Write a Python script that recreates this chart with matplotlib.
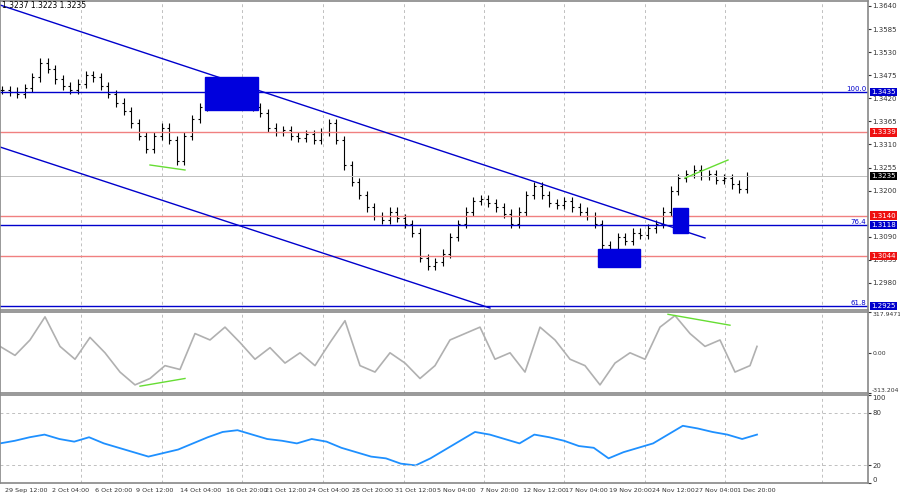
import matplotlib
matplotlib.use("Agg")
import matplotlib.pyplot as plt
import numpy as np
from matplotlib.patches import Rectangle

closes = [1.3440,1.3436,1.3430,1.3445,1.3470,1.3505,1.3490,1.3465,1.3450,1.3440,1.3455,1.3475,1.3470,1.3450,
1.3430,1.3410,1.3390,1.3360,1.3330,1.3300,1.3330,1.3350,1.3320,1.3270,1.3330,1.3370,1.3400,1.3430,1.3445,1.3440,
1.3425,1.3435,1.3420,1.3400,1.3385,1.3350,1.3340,1.3345,1.3330,1.3325,1.3335,1.3320,1.3340,1.3360,1.3320,1.3260,
1.3220,1.3190,1.3160,1.3140,1.3130,1.3150,1.3135,1.3120,1.3100,1.3040,1.3020,1.3030,1.3050,1.3090,1.3120,1.3150,
1.3175,1.3180,1.3170,1.3160,1.3145,1.3120,1.3150,1.3190,1.3210,1.3190,1.3170,1.3165,1.3175,1.3160,1.3150,1.3140,
1.3120,1.3070,1.3060,1.3090,1.3080,1.3100,1.3095,1.3110,1.3120,1.3150,1.3200,1.3230,1.3240,1.3250,1.3235,1.3240,
1.3225,1.3230,1.3215,1.3205,1.3235]
cci_x = [0,15,30,45,60,75,90,105,120,135,150,165,180,195,210,225,240,255,270,285,300,315,330,345,360,375,390,405,420,
435,450,465,480,495,510,525,540,555,570,585,600,615,630,645,660,675,690,705,720,735,750,757]
cci = [50,-20,100,280,50,-50,120,0,-150,-250,-200,-100,-130,150,100,200,80,-50,40,-80,0,-100,80,250,-100,-150,0,-80,-200,
-100,100,150,200,-50,0,-150,200,100,-50,-100,-250,-80,0,-50,200,290,150,50,100,-150,-100,50]
rsi = [45,48,52,55,50,47,52,45,40,35,30,34,38,45,52,58,60,55,50,48,45,50,47,40,35,30,28,22,20,28,38,48,58,55,50,45,55,52,
48,42,40,28,35,40,45,55,65,62,58,55,50,55]
levels_blue = [1.3435, 1.3118, 1.2925]
levels_red = [1.3339, 1.3140, 1.3044]
last = 1.3235
tick_px = [5,52,95,136,180,226,265,308,352,395,437,480,523,565,609,652,695,737]
tick_labels = ["29 Sep 12:00","2 Oct 04:00","6 Oct 20:00","9 Oct 12:00","14 Oct 04:00","16 Oct 20:00","21 Oct 12:00",
"24 Oct 04:00","28 Oct 20:00","31 Oct 12:00","5 Nov 04:00","7 Nov 20:00","12 Nov 12:00","17 Nov 04:00",
"19 Nov 20:00","24 Nov 12:00","27 Nov 04:00","1 Dec 20:00"]

W, H = 900, 500
PW = 868
fig = plt.figure(figsize=(9, 5), dpi=100)
def ax_at(top, bot):
    return fig.add_axes([0, 1 - bot / H, PW / W, (bot - top) / H])
ax = ax_at(1, 310); ac = ax_at(312, 393); ar = ax_at(395, 483)
px = lambda p: 1.3640 - (p - 6) * 0.0715 / 300
ax.set_ylim(px(310), px(1))
for a in (ax, ac, ar):
    a.set_xlim(0, PW)
    for s in a.spines.values():
        s.set_color("#888888"); s.set_linewidth(1.2)
    a.tick_params(left=False, labelleft=False, bottom=False, labelbottom=False,
                  right=True, labelright=True, labelsize=5, length=2, pad=1, colors="#333333")
    for g in [81,162,242,323,404,484,564,645,725,822]:
        a.axvline(g, color="#c0c0c0", lw=0.7, ls=(0, (3, 3)), zorder=0)

xs = np.arange(len(closes)) * 7.6 + 2
c = np.array(closes)
prev = np.r_[c[0], c[:-1]]
hi = np.maximum(prev, c) + 0.0010; lo = np.minimum(prev, c) - 0.0010
ax.vlines(xs, lo, hi, color="black", lw=0.8)
ax.hlines(prev, xs - 2, xs, color="black", lw=0.8)
ax.hlines(c, xs, xs + 2, color="black", lw=0.8)

for l in levels_blue:
    ax.axhline(l, color="#0000cc", lw=1)
for l in levels_red:
    ax.axhline(l, color="#f08080", lw=1)
ax.axhline(last, color="#c0c0c0", lw=0.7)
ax.plot([0, 705], [px(5), px(238)], color="#0000cc", lw=1)
ax.plot([0, 490], [px(147), px(308)], color="#0000cc", lw=1)
for (x0, x1, y0, y1) in [(205, 258, 77, 110), (598, 640, 249, 267), (673, 688, 208, 233)]:
    ax.add_patch(Rectangle((x0, px(y1)), x1 - x0, px(y0) - px(y1), color="#0000dd", zorder=3))
ax.plot([150, 185], [px(165), px(170)], color="#66dd33", lw=1)
ax.plot([685, 728], [px(178), px(160)], color="#66dd33", lw=1)
for l, t in [(1.3435, "100.0"), (1.3118, "76.4"), (1.2925, "61.8")]:
    ax.text(866, l, t, color="#0000cc", fontsize=5, ha="right", va="bottom")
ax.text(2, px(1), "1.3237 1.3223 1.3235", fontsize=5.5, va="top")
yt = [1.3640,1.3585,1.3530,1.3475,1.3420,1.3365,1.3310,1.3255,1.3200,1.3090,1.3035,1.2980]
ax.set_yticks(yt); ax.set_yticklabels([f"{v:.4f}" for v in yt])
for l, col in [(1.3435,"#0000cc"),(1.3339,"#ee1111"),(1.3235,"black"),
               (1.3140,"#ee1111"),(1.3118,"#0000cc"),(1.3044,"#ee1111"),(1.2925,"#0000cc")]:
    ax.text(871, l, f"{l:.4f}", fontsize=5, color="white", va="center", ha="left", clip_on=False,
            bbox=dict(boxstyle="square,pad=0.2", fc=col, ec="none"), zorder=5)

ac.set_ylim(-313.204, 317.9471)
ac.plot(cci_x, cci, color="#b0b0b0", lw=1.2)
ac.plot([140, 185], [-260, -200], color="#66dd33", lw=1)
ac.plot([668, 730], [300, 215], color="#66dd33", lw=1)
ac.set_yticks([317.9471, 0, -313.204]); ac.set_yticklabels(["317.9471", "0.00", "-313.204"])
ac.tick_params(axis="y", labelsize=4.4)
ac.get_yticklabels()[0].set_va("top"); ac.get_yticklabels()[2].set_va("bottom")

ar.set_ylim(0, 100)
rx = np.linspace(0, 757, len(rsi))
ar.plot(rx, rsi, color="#1e90ff", lw=1.3)
for l in (80, 20):
    ar.axhline(l, color="#c0c0c0", lw=0.7, ls=(0, (3, 3)))
ar.set_yticks([100, 80, 20, 0])
ar.get_yticklabels()[0].set_va("top"); ar.get_yticklabels()[3].set_va("bottom")
for p, t in zip(tick_px, tick_labels):
    fig.text(p / W, 1 - 490 / H, t, fontsize=4.6, ha="left", va="center_baseline", color="#333333")
fig.savefig("out.png", dpi=100)
